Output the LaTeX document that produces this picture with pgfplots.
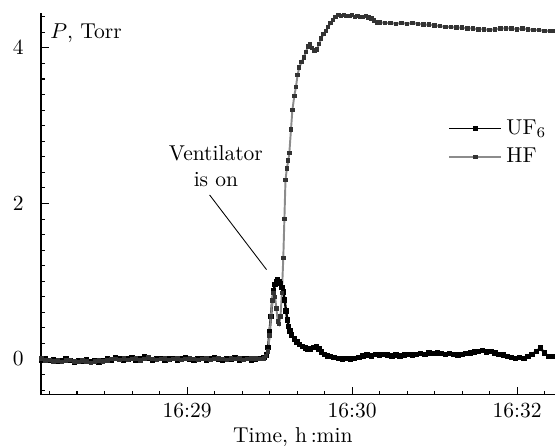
\documentclass[border=0pt]{standalone}
\usepackage{pgfplots}
\pgfplotsset{compat=1.18}
\begin{document}
\begin{tikzpicture}
\useasboundingbox (-19.07pt,-23.7pt) rectangle (239pt,183.6pt);
\begin{axis}[
  scale only axis,
  width=239pt, height=177.6pt,
  xmin=-53.1, xmax=133.8,
  ymin=-0.46, ymax=4.45,
  axis lines*=left,
  axis line style={line width=0.6pt},
  tick align=inside,
  major tick length=3.7pt,
  minor tick length=1.9pt,
  tick style={black, line width=0.5pt},
  xtick={0,60,120},
  xticklabels={16:29,16:30,16:32},
  minor xtick={-50,-40,-30,-20,-10,10,20,30,40,50,70,80,90,100,110,130},
  ytick={0,2,4},
  minor ytick={-0.4,-0.2,0.2,0.4,0.6,0.8,1.0,1.2,1.4,1.6,1.8,2.2,2.4,2.6,2.8,3.0,3.2,3.4,3.6,3.8,4.2,4.4},
  yticklabel style={xshift=-4.5pt},
  xticklabel style={yshift=-0.5pt},
  xlabel={Time, h\,:min},
  xlabel style={at={(axis description cs:0.49,0)},anchor=center,yshift=-19.5pt},
  clip=false,
  legend style={at={(0.78,0.745)},anchor=north west,draw=none,fill=none,
    row sep=1pt, font=\normalsize},
  legend cell align=left,
  legend image code/.code={
    \draw[#1,mark=none,line width=0.6pt] (0cm,0cm) -- (0.85cm,0cm);
    \draw[#1,only marks] plot coordinates {(0.425cm,0cm)};
  },
]
\addplot[black, line width=1.1pt, mark=square*, mark size=0.7pt, mark options={black}] coordinates {
(-53,-0.01) (-51.5,0.0) (-50,-0.02) (-48.5,-0.01) (-47,-0.03) (-45.5,-0.02) (-44,0.0) (-42.5,-0.02)
(-41,-0.04) (-39.5,-0.02) (-38,-0.03) (-36.5,-0.01) (-35,-0.03) (-33.5,-0.02) (-32,-0.04) (-30.5,-0.02)
(-29,0.0) (-27.5,-0.02) (-26,0.02) (-24.5,0.01) (-23,-0.01) (-21.5,0.0) (-20,0.02) (-18.5,-0.01)
(-17,0.0) (-15.5,0.03) (-14,0.01) (-12.5,-0.01) (-11,0.0) (-9.5,0.01) (-8,-0.02) (-6.5,0.0)
(-5,0.01) (-3.5,-0.01) (-2,0.0) (-0.5,0.02) (1,0.0) (2.5,-0.02) (4,0.0) (5.5,0.01) (7,-0.01)
(8.5,0.0) (10,0.02) (11.5,0.0) (13,-0.01) (14.5,0.01) (16,0.0) (17.5,0.02) (19,-0.01) (20.5,0.0)
(22,0.01) (23.5,-0.01) (25,0.0) (26.5,0.01) (28,0.02) (28.8,0.05) (29.5,0.15)
(30,0.35) (30.5,0.55) (31,0.75) (31.5,0.88) (32,0.96) (32.5,1.0) (33,1.02) (33.5,1.0) (34,0.97)
(34.5,0.92) (35,0.86) (35.5,0.76) (36,0.62) (36.5,0.5) (37,0.42) (37.5,0.36) (38,0.31) (39,0.26)
(40,0.22) (41,0.19) (42,0.16) (43,0.14) (44,0.12) (45,0.13) (46,0.15) (47,0.16) (48,0.13) (49,0.09)
(50,0.06) (51,0.04) (52,0.03) (53.5,0.02) (55,0.01) (56.5,0.0) (58,0.01) (59.5,0.0) (61,0.01)
(62.5,0.02) (64,0.04) (65.5,0.05) (67,0.04) (68.5,0.06) (70,0.05) (71.5,0.06) (73,0.05) (74.5,0.04)
(76,0.05) (77.5,0.04) (79,0.05) (80.5,0.06) (82,0.05) (83.5,0.06) (85,0.07) (86.5,0.06) (88,0.08)
(89.5,0.07) (91,0.08) (92.5,0.07) (94,0.06) (95.5,0.07) (97,0.06) (98.5,0.05) (100,0.06) (101.5,0.07)
(103,0.08) (104.5,0.09) (106,0.1) (107.5,0.11) (109,0.09) (110.5,0.1) (112,0.08) (113.5,0.06)
(115,0.05) (116.5,0.03) (118,0.02) (119.5,0.01) (121,0.02) (122.5,0.01) (124,0.03) (125.5,0.06)
(127,0.1) (128.5,0.14) (130,0.08) (131.5,0.03) (133,0.03)
};
\addlegendentry{UF$_6$}
\addplot[black!45, line width=0.9pt, mark=square*, mark size=0.6pt, mark options={black!80}] coordinates {
(-53,0.01) (-51.5,-0.02) (-50,-0.01) (-48.5,-0.03) (-47,-0.02) (-45.5,-0.04) (-44,-0.02) (-42.5,-0.01)
(-41,-0.03) (-39.5,-0.04) (-38,-0.02) (-36.5,-0.03) (-35,-0.05) (-33.5,-0.03) (-32,-0.02) (-30.5,-0.03)
(-29,-0.02) (-27.5,0.0) (-26,0.0) (-24.5,-0.01) (-23,0.01) (-21.5,-0.01) (-20,0.0) (-18.5,0.01)
(-17,-0.02) (-15.5,0.0) (-14,0.02) (-12.5,0.0) (-11,-0.01) (-9.5,0.0) (-8,0.01) (-6.5,-0.01)
(-5,0.0) (-3.5,0.01) (-2,-0.01) (-0.5,0.0) (1,0.01) (2.5,0.0) (4,-0.01) (5.5,0.0) (7,0.01)
(8.5,-0.01) (10,0.0) (11.5,0.01) (13,0.0) (14.5,-0.01) (16,0.01) (17.5,0.0) (19,0.01) (20.5,-0.01)
(22,0.0) (23.5,0.01) (25,0.01) (26.5,0.0) (28,0.01) (28.8,0.04) (29.5,0.1)
(30,0.3) (30.5,0.55) (31,0.75) (31.5,0.85) (32,0.8) (32.5,0.65) (33,0.48) (33.5,0.45) (34,0.55)
(34.5,0.85) (35,1.3) (35.4,1.8) (35.8,2.3) (36.3,2.45) (36.8,2.55) (37.2,2.65) (37.8,2.95) (38.3,3.2)
(39,3.38) (39.6,3.5) (40.2,3.65) (40.8,3.75) (41.7,3.82) (42.5,3.88) (43.2,3.95) (44,4.02) (44.8,4.05)
(45.5,4.0) (46.3,3.97) (47.2,3.98) (48,4.05) (48.8,4.12) (49.6,4.18) (50.5,4.22) (51.3,4.27) (52.2,4.32)
(53,4.36) (54,4.4) (55,4.42) (56,4.41) (57,4.42) (58,4.41) (59,4.41) (60,4.42) (61,4.40) (62,4.41)
(63,4.40) (64,4.40) (65,4.41) (66,4.39) (67,4.38) (68,4.35) (69,4.33) (70,4.33) (72,4.32) (74,4.32)
(76,4.31) (78,4.32) (80,4.31) (82,4.32) (84,4.31) (86,4.30) (88,4.30) (90,4.29) (92,4.28) (94,4.27)
(96,4.27) (98,4.26) (100,4.26) (102,4.25) (104,4.25) (106,4.24) (108,4.24) (110,4.23) (112,4.24)
(114,4.25) (116,4.25) (118,4.25) (120,4.24) (122,4.25) (124,4.24) (126,4.23) (128,4.23) (130,4.22)
(132,4.22) (133.5,4.22)
};
\addlegendentry{HF}
\node[anchor=west, inner sep=0pt] at (rel axis cs:0.0175,0.948) {$P$, Torr};
\node[align=center, inner sep=0pt] at (axis cs:10.5,2.48) {Ventilator\\is on};
\draw[black, line width=0.4pt] (axis cs:8.2,2.11) -- (axis cs:28.9,1.15);
\end{axis}
\end{tikzpicture}
\end{document}
